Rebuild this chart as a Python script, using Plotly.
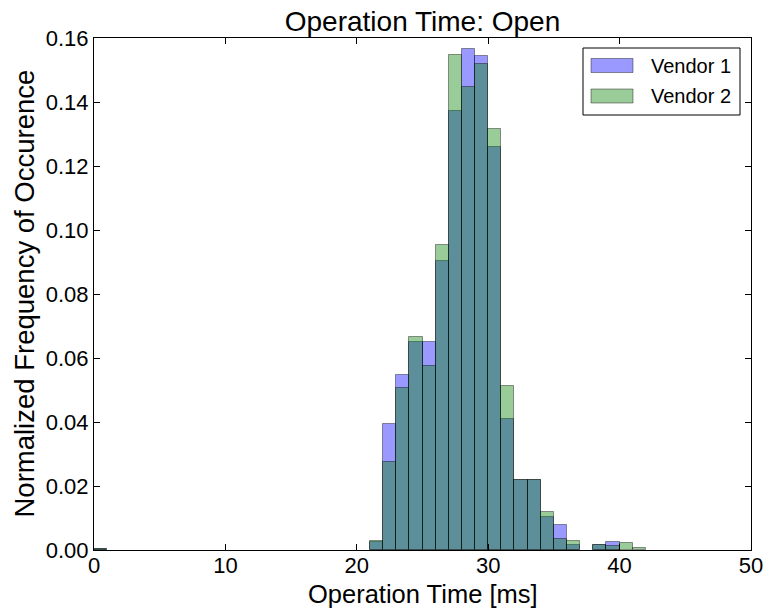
import plotly.graph_objects as go

# Histogram bins: lower edges (ms), 1 ms wide
bin_edges_v1 = [0, 21, 22, 23, 24, 25, 26, 27, 28, 29, 30, 31, 32, 33, 34, 35, 36, 38, 39]
freq_v1 = [0.0003, 0.0026, 0.0394, 0.0547, 0.0649, 0.0649, 0.0903, 0.1372, 0.1567, 0.1544,
           0.1260, 0.0410, 0.0219, 0.0219, 0.0104, 0.0077, 0.0015, 0.0016, 0.0024]

bin_edges_v2 = [0, 21, 22, 23, 24, 25, 26, 27, 28, 29, 30, 31, 32, 33, 34, 35, 36, 38, 39, 40, 41]
freq_v2 = [0.0003, 0.0028, 0.0274, 0.0505, 0.0665, 0.0575, 0.0953, 0.1547, 0.1448, 0.1519,
           0.1316, 0.0511, 0.0219, 0.0219, 0.0119, 0.0033, 0.0028, 0.0016, 0.0013, 0.0021, 0.0005]

series_names = ["Vendor 1", "Vendor 2"]
series_fill = ["rgba(0,0,255,0.4)", "rgba(0,128,0,0.4)"]
edge_color = "rgba(0,0,0,0.4)"
bin_width = 1.0

x_ticks = [0, 10, 20, 30, 40, 50]
y_ticks = [0.00, 0.02, 0.04, 0.06, 0.08, 0.10, 0.12, 0.14, 0.16]

FONT = "Liberation Sans, Arial, Helvetica, sans-serif"

W, H = 763, 609
ML, MR, MT, MB = 94, 12, 38, 59
PW, PH = W - ML - MR, H - MT - MB


def px(x):
    return (x - ML) / PW


def py(y):
    return (H - MB - y) / PH


fig = go.Figure()
for edges, vals, name, fill in [(bin_edges_v1, freq_v1, series_names[0], series_fill[0]),
                                (bin_edges_v2, freq_v2, series_names[1], series_fill[1])]:
    fig.add_trace(go.Bar(
        x=[e + bin_width / 2 for e in edges], y=vals, width=bin_width,
        name=name, showlegend=False,
        marker=dict(color=fill, line=dict(color=edge_color, width=1)),
    ))

axis_common = dict(
    showline=True, linecolor="black", linewidth=1, mirror="allticks",
    ticks="inside", ticklen=6, tickcolor="black", tickwidth=1,
    showgrid=False, zeroline=False, automargin=False,
    ticklabeloverflow="allow",
    tickfont=dict(family=FONT, size=22, color="black"),
)

# Custom legend (matplotlib-style wide patches)
shapes = [dict(type="rect", xref="paper", yref="paper",
               x0=px(583), x1=px(740), y0=py(115), y1=py(48),
               line=dict(color="black", width=1), fillcolor="white", layer="above")]
annotations = []
for i, (name, fill) in enumerate(zip(series_names, series_fill)):
    yc = 65.5 + i * 30.5
    shapes.append(dict(type="rect", xref="paper", yref="paper",
                       x0=px(591), x1=px(633), y0=py(yc + 7), y1=py(yc - 7),
                       line=dict(color=edge_color, width=1), fillcolor=fill, layer="above"))
    annotations.append(dict(text=name, xref="paper", yref="paper",
                            x=px(649), y=py(yc), xanchor="left", yanchor="middle",
                            showarrow=False,
                            font=dict(family=FONT, size=20, color="black")))

# Axis labels as annotations for precise placement
annotations.append(dict(text="Normalized Frequency of Occurence", xref="paper", yref="paper",
                        x=px(23.5), y=0.5, xanchor="center", yanchor="middle",
                        textangle=-90, showarrow=False,
                        font=dict(family=FONT, size=27.5, color="black")))
annotations.append(dict(text="Operation Time [ms]", xref="paper", yref="paper",
                        x=0.5, y=py(608.7), xanchor="center", yanchor="bottom",
                        showarrow=False, borderpad=0,
                        font=dict(family=FONT, size=25.5, color="black")))

fig.update_layout(
    width=W, height=H,
    margin=dict(l=ML, r=MR, t=MT, b=MB),
    paper_bgcolor="white", plot_bgcolor="white",
    barmode="overlay", bargap=0,
    font=dict(family=FONT, color="black"),
    title=dict(text="Operation Time: Open", x=0.5, xref="paper", xanchor="center",
               y=1, yref="paper", yanchor="bottom", pad=dict(b=7),
               font=dict(family=FONT, size=28, color="black")),
    xaxis=dict(range=[0, 50], tickvals=x_ticks, ticklabelstandoff=-4, **axis_common),
    yaxis=dict(range=[0, 0.16], tickvals=y_ticks, tickformat=".2f", **axis_common),
    shapes=shapes,
    annotations=annotations,
    showlegend=False,
)

fig.write_html("out.html")
